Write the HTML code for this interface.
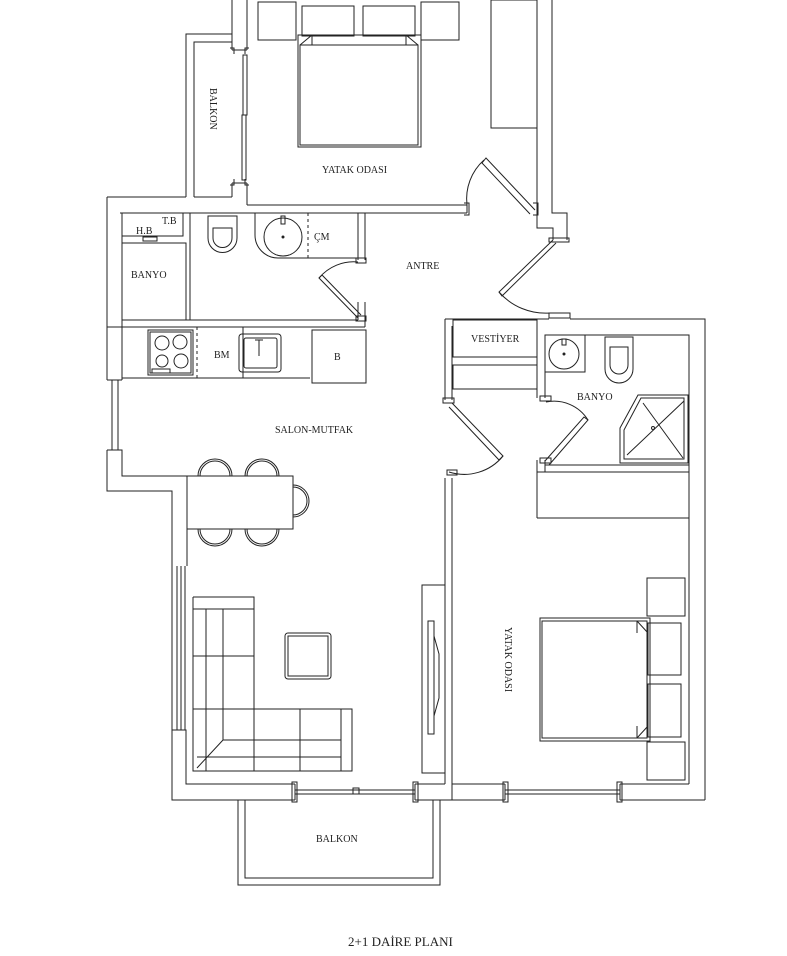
<!DOCTYPE html>
<html><head><meta charset="utf-8"><style>
html,body{margin:0;padding:0;background:#fff;}
svg{display:block;}
text{font-family:"Liberation Serif",serif;font-size:10px;fill:#222;stroke:none;}
</style></head><body>
<svg width="787" height="956" viewBox="0 0 787 956" xmlns="http://www.w3.org/2000/svg" fill="none" stroke="#222" stroke-width="1">
<!-- TOP BEDROOM -->
<line x1="232" y1="0" x2="232" y2="50"/><line x1="247" y1="0" x2="247" y2="50"/>
<line x1="232" y1="50" x2="247" y2="50"/>
<rect x="243" y="55" width="4" height="60"/><rect x="242" y="115" width="4" height="65"/>
<line x1="232" y1="183" x2="247" y2="183"/><line x1="232" y1="183" x2="232" y2="197"/>
<line x1="247" y1="183" x2="247" y2="205"/>
<path d="M230 48h4v6M249 48h-4v6M230 185h4v-6M249 185h-4v-6"/>
<!-- balcony left -->
<path d="M186 197V34H232M194 197V42H232"/>
<text x="210" y="88" transform="rotate(90 210 88)">BALKON</text>
<!-- bedroom bottom wall -->
<path d="M247 205H467M120 213H467M467 205V213"/>
<path d="M464 203h5v12h-5"/>
<!-- right wall -->
<path d="M537 0V228H553V240M552 0V213H567V240"/>
<path d="M533 203h5v12h-5"/>
<path d="M549 238h20v4h-20z"/>
<!-- wardrobe -->
<rect x="491" y="0" width="46" height="128"/>
<!-- bedroom door -->
<path d="M535 210L486 158L482 163L530 214"/>
<path d="M484 160A52 52 0 0 0 467 205"/>
<!-- nightstands / bed -->
<rect x="258" y="2" width="38" height="38"/><rect x="421" y="2" width="38" height="38"/>
<rect x="302" y="6" width="52" height="30"/><rect x="363" y="6" width="52" height="30"/>
<rect x="298" y="35" width="123" height="112"/><rect x="300" y="45" width="118" height="100"/>
<path d="M300 45l12-10M418 45l-12-10M312 35v10M406 35v10"/>
<text x="322" y="173">YATAK ODASI</text>
<!-- LEFT OUTER + BATH -->
<path d="M107 197H186M194 197H232M107 197V380M122 213V380"/>
<rect x="122" y="213" width="61" height="23"/>
<text x="162" y="224">T.B</text><text x="136" y="234">H.B</text>
<rect x="143" y="237" width="14" height="4"/>
<rect x="122" y="243" width="64" height="77"/>
<line x1="190" y1="213" x2="190" y2="320"/>
<text x="131" y="278">BANYO</text>
<path d="M208 216h29v22a14 14 0 0 1 -29 0z"/><path d="M213 228h19v10a9 9 0 0 1 -19 0z"/>
<path d="M255 213v22a23 23 0 0 0 23 23H358"/><line x1="308" y1="213" x2="308" y2="258" stroke-dasharray="3,3"/>
<circle cx="283" cy="237" r="19"/><circle cx="283" cy="237" r="1" fill="#222"/><rect x="281" y="216" width="4" height="8"/>
<text x="314" y="240">ÇM</text>
<path d="M358 213V260M365 213V260M365 302V327M358 302V320"/>
<path d="M356 258h10v5h-10zM356 316h10v5h-10z"/>
<path d="M358 318L319 278L322 275L361 315"/>
<path d="M319 278A45 45 0 0 1 358 262"/>
<text x="406" y="269">ANTRE</text>
<path d="M122 320H358M107 327H365M365 302V327"/>
<!-- kitchen -->
<path d="M122 327V378H310"/>
<rect x="148" y="330" width="45" height="45"/><rect x="150" y="332" width="41" height="41"/>
<circle cx="162" cy="343" r="7"/><circle cx="180" cy="342" r="7"/><circle cx="162" cy="361" r="6"/><circle cx="181" cy="361" r="7"/>
<path d="M152 369h18v4h-18z"/>
<line x1="197" y1="327" x2="197" y2="378" stroke-dasharray="3,3"/>
<line x1="243" y1="327" x2="243" y2="378"/>
<text x="214" y="358">BM</text>
<rect x="239" y="334" width="42" height="38" rx="3"/><rect x="244" y="338" width="33" height="30" rx="2"/>
<path d="M259 340v16M255 340h8"/>
<rect x="312" y="330" width="54" height="53"/>
<text x="334" y="360">B</text>
<!-- left window + lower left walls -->
<path d="M107 380H122M112 380V450M118 380V450"/>
<path d="M107 450H122V476H187V566M107 450V491H172V566"/>
<path d="M172 566V730M185 566V730M177 566V730M181 566V730"/>
<path d="M172 730H186V784H295M172 730V800H295"/>
<text x="275" y="433">SALON-MUTFAK</text>
<!-- dining -->
<rect x="187" y="476" width="106" height="53"/>
<path d="M200 476a15 15 0 0 1 30 0M198 476a17 17 0 0 1 34 0M247 476a15 15 0 0 1 30 0M245 476a17 17 0 0 1 34 0"/>
<path d="M200 529a15 15 0 0 0 30 0M198 529a17 17 0 0 0 34 0M247 529a15 15 0 0 0 30 0M245 529a17 17 0 0 0 34 0"/>
<path d="M293 487a14 14 0 0 1 0 28M293 485a16 16 0 0 1 0 32"/>
<!-- sofa -->
<path d="M193 597H254V709M193 597V771H352V709H254M193 609H254M341 709V771"/>
<path d="M206 609V771M223 609V740M193 656H254M193 709H254M223 740H341M197 757H341M254 709V771M300 709V771M223 740L197 768"/>
<rect x="285" y="633" width="46" height="46" rx="3"/><rect x="288" y="636" width="40" height="40"/>
<!-- TV -->
<rect x="422" y="585" width="23" height="188"/>
<rect x="428" y="621" width="6" height="113"/><path d="M434 636l5 18v44l-5 18"/>
<!-- central wall -->
<path d="M445 478V784M452 478V800"/>
<!-- bottom wall -->
<path d="M295 784V800M415 784V800M295 790H415M295 794H415M353 788h6v6h-6z"/>
<path d="M292 782h5v20h-5zM413 782h5v20h-5z"/>
<path d="M415 784H445M415 800H452H505M452 784H505"/>
<path d="M505 784V800M620 784V800M505 790H620M505 794H620"/>
<path d="M503 782h5v20h-5zM617 782h5v20h-5z"/>
<path d="M620 784H689M620 800H705"/>
<!-- bottom balcony -->
<path d="M238 800V885H440V800M245 800V878H433V800"/>
<text x="316" y="842">BALKON</text>
<!-- RIGHT BLOCK -->
<path d="M445 319H549M570 319H705V800M452 326V400M445 319V400"/>
<path d="M689 335V784M545 335H689V465H545"/>
<path d="M443 398h11v5h-11z"/>
<rect x="453" y="320" width="84" height="37"/>
<text x="471" y="342">VESTİYER</text>
<rect x="453" y="365" width="84" height="24"/>
<path d="M537 326V398M545 335V398M545 460V472M537 460V472"/>
<path d="M540 396h11v5h-11zM540 458h11v5h-11z"/>
<!-- bath contents -->
<rect x="545" y="335" width="40" height="37"/><circle cx="564" cy="354" r="15"/><circle cx="564" cy="354" r="1" fill="#222"/><rect x="562" y="339" width="4" height="6"/>
<path d="M605 337h28v32a14 14 0 0 1 -28 0z"/><path d="M610 347h18v18a9 9 0 0 1 -18 0z"/>
<text x="577" y="400">BANYO</text>
<path d="M638 395H688V463H620V428Z"/><path d="M641 398H684V459H624V430Z"/>
<path d="M627 455L684 401M643 403L683 458"/><circle cx="653" cy="428" r="1.5"/>
<!-- doors -->
<path d="M452 403L503 456L499 460L449 407"/><path d="M503 456A50 50 0 0 1 449 472"/>
<path d="M447 470h10v5h-10z"/>
<path d="M549 465L588 420L584 417L545 461"/><path d="M588 420A40 40 0 0 0 546 402"/>
<path d="M553 240L499 292L502 296L556 243"/><path d="M499 292A62 62 0 0 0 550 313"/>
<path d="M549 313h21v5h-21z"/>
<!-- right bedroom -->
<path d="M537 472H689M537 518H689M537 472V518"/>
<rect x="647" y="578" width="38" height="38"/><rect x="647" y="742" width="38" height="38"/>
<rect x="540" y="618" width="110" height="123"/><rect x="542" y="621" width="105" height="117"/>
<rect x="648" y="623" width="33" height="52"/><rect x="648" y="684" width="33" height="53"/>
<path d="M637 621l11 12M637 738l11-12M637 621v12M637 738v-12"/>
<text x="505" y="627" transform="rotate(90 505 627)">YATAK ODASI</text>
<text x="348" y="946" style="font-size:13px">2+1 DAİRE PLANI</text>
</svg>
</body></html>
